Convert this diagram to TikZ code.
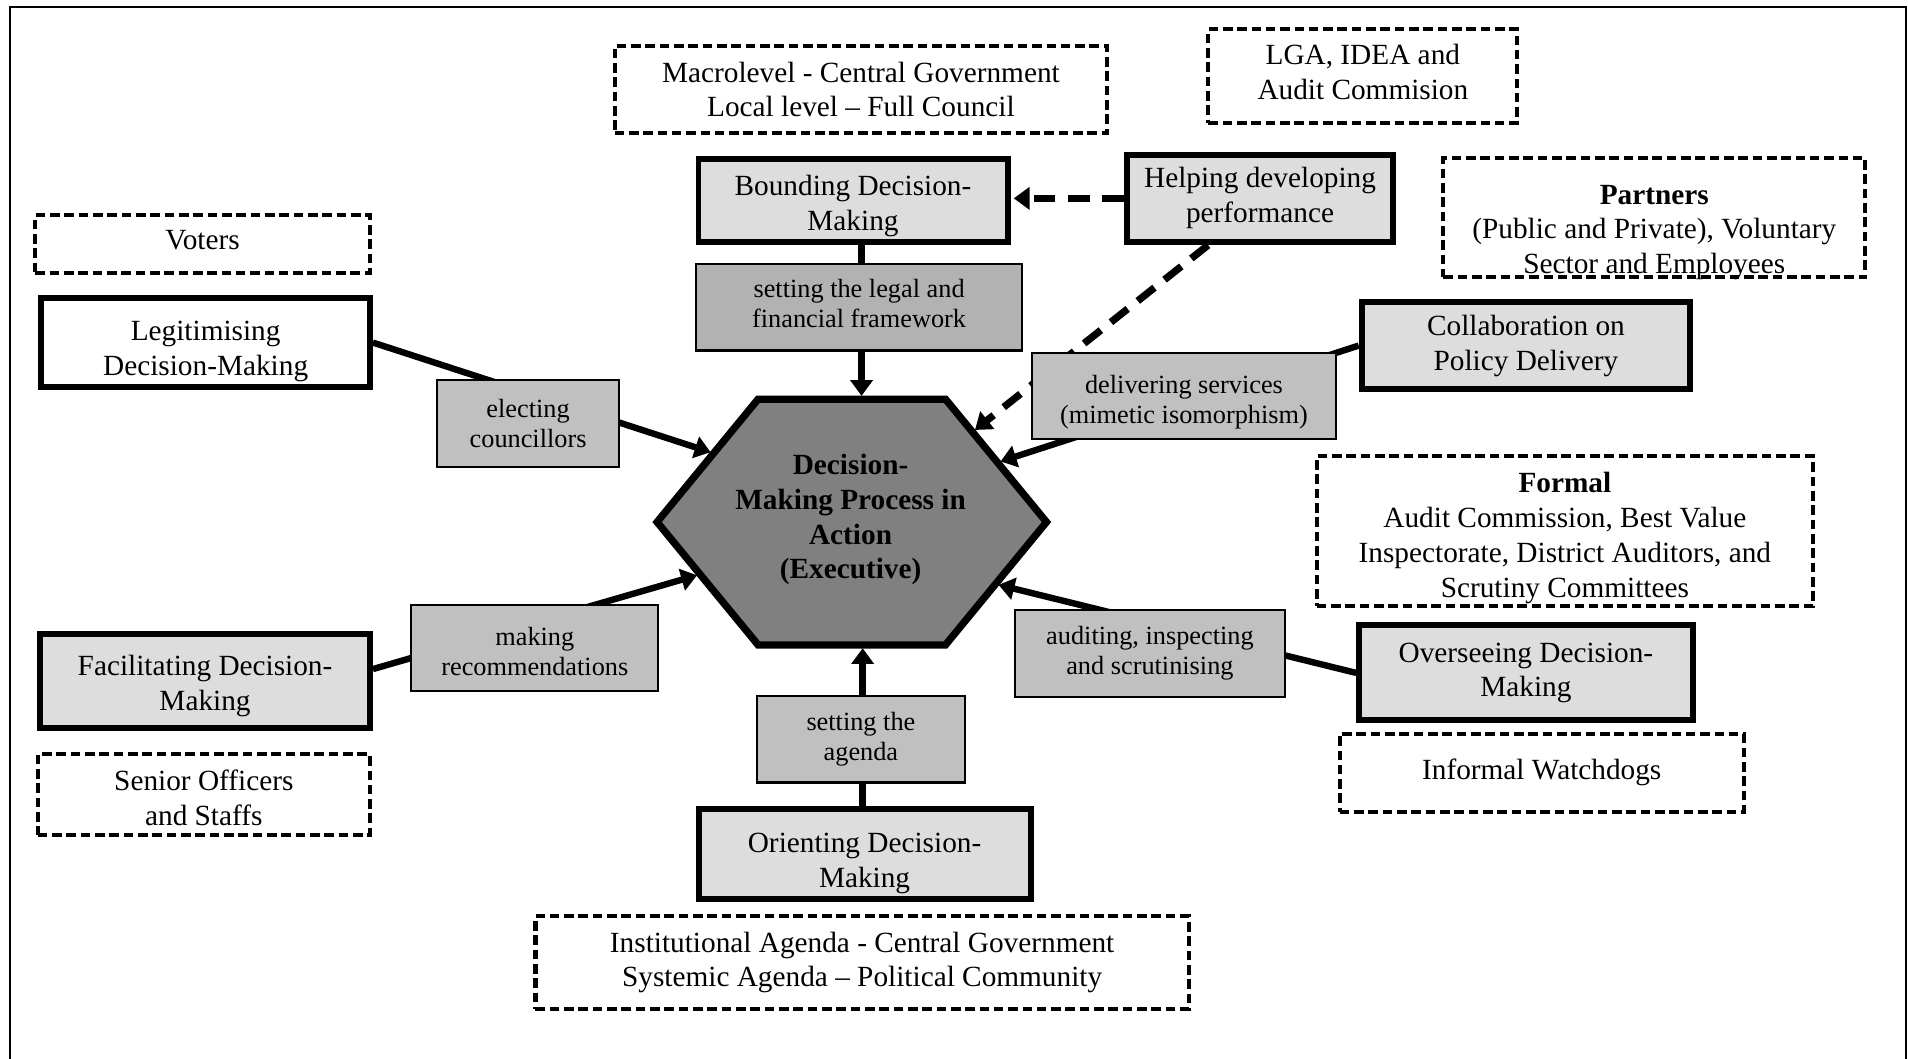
\documentclass[tikz,border=0pt]{standalone}
\usepackage{fontspec}
\setmainfont{Liberation Serif}
\usetikzlibrary{arrows.meta,calc}
\definecolor{boxgray}{RGB}{221,221,221}
\definecolor{lblgray}{RGB}{192,192,192}
\definecolor{lbldark}{RGB}{178,178,178}
\definecolor{hexgray}{RGB}{128,128,128}

\begin{document}
\begin{tikzpicture}[
        x=0.02cm, y=-0.02cm,
        box/.style={draw, line width=2.8pt, fill=boxgray, align=center,
            font=\fontsize{13.7}{16.3}\selectfont, inner sep=1pt},
        dbox/.style={draw, line width=1.9pt, dash pattern=on 4.5pt off 2.2pt,
            align=center, font=\fontsize{13.7}{16.3}\selectfont, inner sep=1pt},
        lbl/.style={draw, line width=1pt, fill=lblgray, align=center,
            font=\fontsize{12.3}{14.2}\selectfont, inner sep=1pt},
        hexa/.style={draw, line width=3.4pt, fill=hexgray},
        arr/.style={-{Triangle[length=2.6mm, width=3.6mm]}, line width=3pt, shorten >=1.5pt},
        darr/.style={arr, line width=3.4pt, dash pattern=on 10pt off 6pt}
    ]
    \useasboundingbox (0,0) rectangle (1568,870);
    \draw[line width=0.9pt] (8,870) -- (8,6) -- (1566,6) -- (1566,870);

    \node[dbox, minimum width=8.1cm, minimum height=1.42cm] (macro) at (707.5,73.5) {Macrolevel - Central Government\\Local level – Full Council};
    \node[dbox, minimum width=5.08cm, minimum height=1.54cm, text height=21.7pt] (lga) at (1120,62.5) {LGA, IDEA and\\Audit Commision};
    \node[dbox, minimum width=5.5cm, minimum height=0.94cm, text height=5.7pt] (voters) at (166.5,200.5) {Voters};
    \node[dbox, minimum width=6.94cm, minimum height=1.96cm, text height=52.3pt, text depth=0pt, inner ysep=0pt] (partn) at (1359.5,179) {\textbf{Partners}\\(Public and Private), Voluntary\\Sector and Employees};
    \node[dbox, minimum width=8.16cm, minimum height=2.42cm, text height=65pt] (formal) at (1286,436.5) {\textbf{Formal}\\Audit Commission, Best Value\\Inspectorate, District Auditors, and\\Scrutiny Committees};
    \node[dbox, minimum width=5.46cm, minimum height=1.32cm, text height=29.1pt] (senior) at (167.5,653) {Senior Officers\\and Staffs};
    \node[dbox, minimum width=6.64cm, minimum height=1.28cm] (watch) at (1267,635) {Informal Watchdogs};
    \node[dbox, minimum width=10.74cm, minimum height=1.52cm] (agendas) at (708.5,791) {Institutional Agenda - Central Government\\Systemic Agenda – Political Community};

    \node[box, minimum width=5.08cm, minimum height=1.36cm, text height=30.3pt] (bound) at (701,165) {Bounding Decision-\\Making};
    \node[box, minimum width=4.38cm, minimum height=1.44cm] (help) at (1035.5,163) {Helping developing\\performance};
    \node[box, fill=white, minimum width=5.4cm, minimum height=1.46cm, text height=33.7pt] (legit) at (169,281.5) {Legitimising\\Decision-Making};
    \node[box, minimum width=5.4cm, minimum height=1.44cm] (collab) at (1254,284) {Collaboration on\\Policy Delivery};
    \node[box, minimum width=5.42cm, minimum height=1.54cm, text height=30.3pt] (facil) at (168.5,559.5) {Facilitating Decision-\\Making};
    \node[box, minimum width=5.48cm, minimum height=1.56cm] (overs) at (1254,553) {Overseeing Decision-\\Making};
    \node[box, minimum width=5.46cm, minimum height=1.48cm, text height=33.7pt] (orient) at (710.5,702) {Orienting Decision-\\Making};

    \coordinate (hl) at (540,429);
    \coordinate (htl) at (623,328);
    \coordinate (htr) at (777,328);
    \coordinate (hr) at (860,429);
    \coordinate (hbr) at (777,530);
    \coordinate (hbl) at (623,530);
    \draw[hexa] (hl) -- (htl) -- (htr) -- (hr) -- (hbr) -- (hbl) -- cycle;
    \node[font=\bfseries\fontsize{13.7}{16.3}\selectfont, align=center] (dmp) at (699,427) {Decision-\\Making Process in\\Action\\(Executive)};

    \coordinate (intop) at ($(htl)!0.552!(htr)$);
    \coordinate (inbot) at ($(hbl)!0.558!(hbr)$);
    \coordinate (inelect) at ($(hl)!0.56!(htl)$);
    \coordinate (inmake) at ($(hl)!0.426!(hbl)$);
    \coordinate (inhelp) at ($(htr)!0.267!(hr)$);
    \coordinate (indeliv) at ($(htr)!0.515!(hr)$);
    \coordinate (inaudit) at ($(hr)!0.505!(hbr)$);

    \draw[arr] (legit.east) -- (inelect);
    \draw[arr] (facil.4) -- (inmake);
    \draw[arr] (collab.west) -- (indeliv);
    \draw[arr] (overs.west) -- (inaudit);
    \draw[arr] (bound.south -| intop) -- (intop);
    \draw[arr] (orient.north -| inbot) -- (inbot);
    \draw[darr] (help.west) -- (help.west -| bound.east);
    \draw[darr] (help.222) -- (inhelp);

    \node[lbl, fill=lbldark, minimum width=5.36cm, minimum height=1.42cm, text height=19.2pt] (legal) at (706,252.5) {setting the legal and\\financial framework};
    \node[lbl, minimum width=3cm, minimum height=1.44cm] (elect) at (434,348) {electing\\councillors};
    \node[lbl, minimum width=5cm, minimum height=1.42cm, text height=28.3pt] (deliv) at (973,325.5) {delivering services\\(mimetic isomorphism)};
    \node[lbl, minimum width=4.06cm, minimum height=1.42cm, text height=26pt] (making) at (439.5,532.5) {making\\recommendations};
    \node[lbl, minimum width=4.44cm, minimum height=1.44cm] (audit) at (945,537) {auditing, inspecting\\and scrutinising};
    \node[lbl, minimum width=3.42cm, minimum height=1.42cm] (agenda) at (707.5,607.5) {setting the\\agenda};
\end{tikzpicture}
\end{document}
